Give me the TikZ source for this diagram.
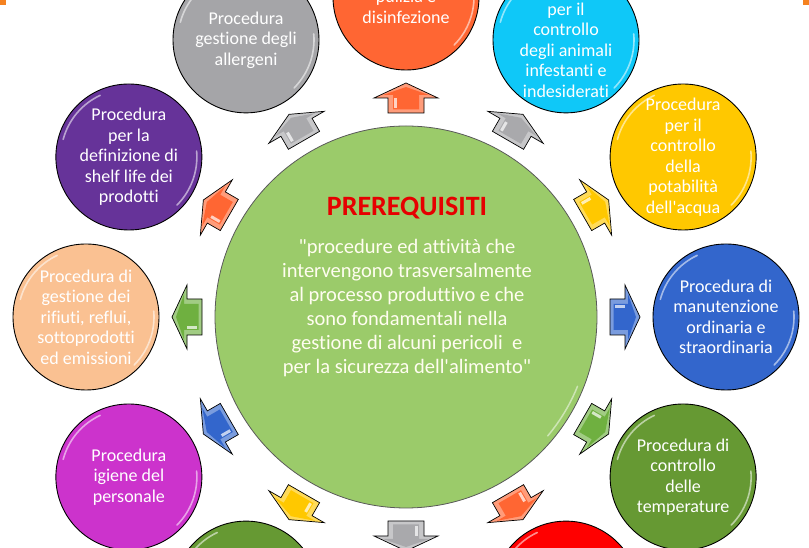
\documentclass[tikz,border=0pt]{standalone}
\usepackage{fontspec}
\setmainfont{Carlito}[Ligatures=NoCommon]
\usetikzlibrary{calc}
\definecolor{cCenter}{HTML}{9BCB6A}
\definecolor{cCorner}{HTML}{F58220}
\definecolor{cBlue}{HTML}{3366CC}
\definecolor{cYellow}{HTML}{FFC800}
\definecolor{cCyan}{HTML}{0FC8F8}
\definecolor{cOrange}{HTML}{FF6633}
\definecolor{cGray}{HTML}{A5A5A8}
\definecolor{cGrayA}{HTML}{A9A9AC}
\definecolor{cPurple}{HTML}{663399}
\definecolor{cPeach}{HTML}{FAC192}
\definecolor{cMagenta}{HTML}{CC33CC}
\definecolor{cDkGreen}{HTML}{669933}
\definecolor{cRed}{HTML}{FF0000}
\definecolor{cGreenA}{HTML}{6FB040}
\definecolor{cTitle}{HTML}{E60000}
\definecolor{cBody}{HTML}{FFFDF0}
\tikzset{
  bub/.style={circle, minimum size=146pt, inner sep=0pt, draw=black, line width=0.9pt},
  btxt/.style={text=white, align=center, font=\fontsize{18}{20.5}\selectfont, inner sep=0pt},
  gloss/.style={white, opacity=0.55, line width=1.6pt, line cap=round},
  barrow/.style={draw=black, line width=0.7pt, line join=miter}
}
\begin{document}
\begin{tikzpicture}[x=1pt,y=1pt]
\useasboundingbox (0,0) rectangle (809,548);
\fill[cCorner] (0,543) rectangle (6,548);
\fill[cCorner] (803,543) rectangle (809,548);
\begin{scope}[shift={(406,231)}]
  % central circle
  \node[circle, minimum size=382pt, inner sep=0pt, fill=cCenter, draw=black!65, line width=0.8pt] (P) at (0,0) {};
  \draw[white, opacity=0.5, line width=1.5pt, line cap=round] (-40:185) arc (-40:-22:185);
  % outer circles
  \foreach \ang/\col in {0/cBlue,30/cYellow,60/cCyan,90/cOrange,120/cGray,150/cPurple,180/cPeach,210/cMagenta,240/cDkGreen,300/cRed,330/cDkGreen}{
    \node[bub, fill=\col] (c\ang) at (\ang:320) {};
    \draw[gloss] ($(c\ang)+(115:68)$) arc (115:165:68);
    \draw[gloss] ($(c\ang)+(-45:68)$) arc (-45:5:68);
  }
  % block arrows between the centre and each outer circle
  \foreach \ang/\col in {0/cBlue,30/cYellow,60/cGrayA,90/cOrange,120/cGrayA,150/cOrange,180/cGreenA,210/cBlue,240/cYellow,270/cGrayA,300/cOrange,330/cGreenA}{
    \begin{scope}[rotate=\ang]
      \filldraw[barrow, fill=\col!65!white] (204,-18) -- (219,-18) -- (219,-32) -- (234,0) -- (219,32) -- (219,18) -- (204,18) -- cycle;
      \fill[\col] (207.5,-13) -- (222,-13) -- (222,-23) -- (230,0) -- (222,23) -- (222,13) -- (207.5,13) -- cycle;
      \fill[white, opacity=0.7] (209,9) -- (219,9) -- (219,12) -- (209,12) -- cycle;
    \end{scope}
  }
  % texts of the outer circles
  \node[btxt] (t0) at (c0) {Procedura di\\manutenzione\\ordinaria e\\straordinaria};
  \node[btxt] (t30) at (c30) {Procedura\\per il\\controllo\\della\\potabilità\\dell\textquotesingle acqua};
  \node[btxt] (t60) at ($(c60)+(0,-10)$) {per il\\controllo\\degli animali\\infestanti e\\indesiderati};
  \node[btxt] (t90) at ($(c90)+(0,-10)$) {pulizia e\\disinfezione};
  \node[btxt] (t120) at (c120) {Procedura\\gestione degli\\allergeni};
  \node[btxt] (t150) at (c150) {Procedura\\per la\\definizione di\\shelf life dei\\prodotti};
  \node[btxt] (t180) at (c180) {Procedura di\\gestione dei\\rifiuti, reflui,\\sottoprodotti\\ed emissioni};
  \node[btxt] (t210) at (c210) {Procedura\\igiene del\\personale};
  \node[btxt] (t330) at (c330) {Procedura di\\controllo\\delle\\temperature};
  % central texts
  \node[anchor=base, inner sep=0pt, text=cTitle, font=\fontsize{28}{30}\selectfont\bfseries] (title) at (1,101) {PREREQUISITI};
  \node[align=center, inner sep=0pt, text=cBody, font=\fontsize{20.5}{24}\selectfont] (body) at (1,8.5)
    {\textquotedbl procedure ed attività che\\intervengono trasversalmente\\al processo produttivo e che\\sono fondamentali nella\\gestione di alcuni pericoli\ \ e\\per la sicurezza dell\textquotesingle alimento\textquotedbl};
\end{scope}
\end{tikzpicture}
\end{document}
